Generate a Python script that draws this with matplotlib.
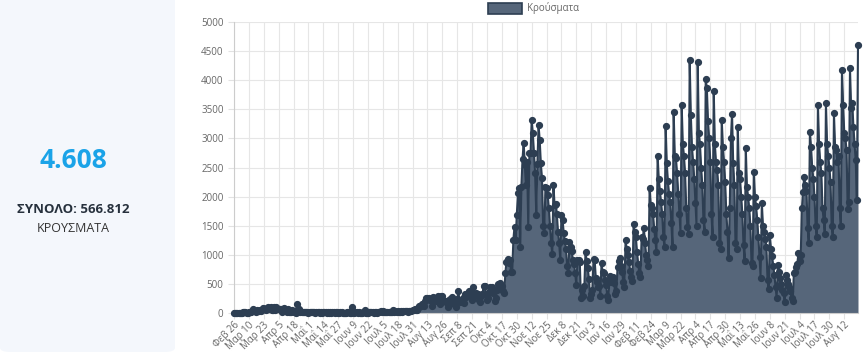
import matplotlib
matplotlib.use("Agg")
import matplotlib.pyplot as plt
from matplotlib.patches import FancyBboxPatch, Rectangle
import numpy as np
import pandas as pd

plt.rcParams['font.family'] = ['Open Sans', 'DejaVu Sans']

# ---- data (daily new cases, Greece, 26 Feb 2020 .. 24 Aug 2021), one row = one week (Wed..Tue)
cases_spring_2020 = [
    1, 2, 0, 0, 3, 0, 1,
    2, 21, 14, 13, 0, 7, 25,
    10, 18, 38, 62, 38, 21, 56,
    34, 31, 46, 31, 94, 71, 71,
    48, 78, 102, 72, 95, 60, 43,
    108, 54, 99, 74, 71, 62, 77,
    25, 49, 81, 53, 17, 75, 20,
    25, 22, 54, 15, 29, 3, 156,
    10, 77, 12, 17, 11, 12, 17,
    10, 15, 6, 21, 19, 17, 13,
    11, 8, 14, 10, 10, 7, 16,
    8, 12, 25, 15, 3, 10, 6,
    13, 6, 21, 20, 3, 9, 11,
]
cases_summer_2020 = [
    6, 8, 19, 17, 5, 2, 5,
    4, 9, 15, 3, 5, 97, 25,
    6, 18, 20, 2, 15, 8, 5,
    6, 14, 49, 7, 3, 7, 15,
    17, 10, 22, 8, 10, 21, 2,
    15, 13, 26, 15, 30, 12, 16,
    22, 21, 9, 14, 22, 25, 44,
    19, 29, 21, 40, 21, 15, 26,
    25, 30, 26, 39, 41, 19, 31,
    33, 36, 46, 57, 75, 44, 55,
    81, 121, 124, 153, 151, 126, 203,
    262, 262, 254, 230, 217, 120, 269,
    250, 208, 244, 284, 195, 157, 293,
    293, 202, 202, 199, 168, 101, 220,
]
cases_autumn_2020 = [
    243, 271, 167, 173, 145, 95, 241,
    372, 189, 201, 229, 251, 170, 331,
    273, 338, 380, 326, 313, 229, 453,
    300, 339, 305, 318, 218, 181, 290,
    323, 464, 460, 321, 217, 261, 354,
    450, 445, 346, 388, 214, 265, 403,
    500, 522, 456, 459, 380, 346, 682,
    880, 922, 865, 910, 713, 710, 1259,
    1480, 1250, 1690, 2056, 2140, 1140, 2170,
    2646, 2926, 2540, 2200, 2600, 1480, 2744,
    2752, 3316, 3087, 2750, 2400, 1684, 2560,
    3230, 2970, 2570, 2314, 1498, 1369, 2160,
    2150, 2020, 1800, 1500, 1197, 1020, 2200,
]
cases_winter_2021 = [
    1850, 1880, 1700, 1390, 1200, 910, 1684,
    1600, 1370, 1230, 1100, 800, 682, 1225,
    1140, 1060, 910, 850, 680, 480, 910,
    910, 880, 252, 400, 300, 460, 1053,
    900, 780, 580, 262, 320, 395, 922,
    910, 600, 530, 450, 460, 300, 854,
    700, 680, 560, 480, 300, 223, 640,
    530, 560, 624, 520, 330, 380, 795,
    900, 940, 810, 700, 530, 450, 1254,
    1100, 1000, 880, 720, 624, 550, 1529,
    1400, 1300, 1050, 850, 680, 620, 1300,
    1280, 1455, 1200, 1000, 910, 800, 2142,
    1860, 1800, 1700, 1450, 1254, 1040, 2702,
]
cases_spring_2021 = [
    2300, 2100, 1900, 1700, 1300, 1140, 3213,
    2570, 2260, 2050, 1900, 1540, 1140, 3459,
    2700, 2660, 2400, 2050, 1700, 1380, 3574,
    2900, 2700, 2400, 1800, 1480, 1350, 4340,
    3400, 2850, 2600, 2300, 1890, 1500, 4309,
    3100, 2900, 2500, 2200, 1600, 1400, 4026,
    3860, 3300, 3000, 2600, 1700, 1300, 3820,
    2900, 2590, 2455, 2200, 1200, 1100, 3316,
    2860, 2600, 2250, 1700, 1400, 950, 1800,
    3000, 3420, 2570, 2200, 1200, 1100, 3200,
    2400, 2300, 2000, 1700, 1170, 900, 2830,
    2170, 2000, 1800, 1500, 860, 800, 2428,
    2000, 1840, 1600, 1300, 960, 600, 1896,
]
cases_summer_2021 = [
    1500, 1400, 1270, 1140, 560, 420, 1340,
    1100, 980, 800, 650, 450, 250, 825,
    700, 600, 500, 400, 340, 195, 660,
    560, 500, 440, 380, 250, 210, 680,
    700, 795, 850, 1025, 900, 1000, 1800,
    2085, 2342, 2200, 2100, 1460, 1200, 3115,
    2850, 2500, 2300, 2000, 1500, 1300, 3574,
    2900, 2600, 2400, 1800, 1600, 1360, 3600,
    2900, 2700, 2500, 2250, 1500, 1300, 3430,
    2850, 2800, 2600, 2700, 1800, 1500, 4175,
    3580, 3100, 3000, 2800, 1780, 1900, 4205,
    3520, 3600, 3200, 2900, 2630, 1940, 4608,
]
cases = (cases_spring_2020 + cases_summer_2020 + cases_autumn_2020 +
         cases_winter_2021 + cases_spring_2021 + cases_summer_2021)

start_date = "2020-02-26"
month_abbr = ["Ιαν", "Φεβ", "Μαρ", "Απρ", "Μαΐ", "Ιουν",
              "Ιουλ", "Αυγ", "Σεπ", "Οκτ", "Νοε", "Δεκ"]
tick_step = 13
legend_label = "Κρούσματα"
latest_value = "4.608"
total_label = "ΣΥΝΟΛΟ: 566.812"
unit_label = "ΚΡΟΥΣΜΑΤΑ"
y_ticks = list(range(0, 5001, 500))

dates = pd.date_range(start_date, periods=len(cases), freq="D")
labels = [f"{month_abbr[d.month - 1]} {d.day}" for d in dates]
x = np.arange(len(cases))

W, H = 868, 364
fig = plt.figure(figsize=(W / 100, H / 100), dpi=100)
fig.patch.set_facecolor("white")

# left info panel
panel = FancyBboxPatch((0 / W, 1 - 352 / H), 175 / W, 380 / H,
                       boxstyle="round,pad=0,rounding_size=0.012",
                       transform=fig.transFigure, facecolor="#f4f7fc",
                       edgecolor="none", zorder=0)
fig.patches.append(panel)
fig.text(73 / W, 1 - 160 / H, latest_value, ha="center", va="center",
         fontsize=19, fontweight="bold", color="#1aa3e8")
fig.text(73 / W, 1 - 210 / H, total_label, ha="center", va="center",
         fontsize=9.5, fontweight="bold", color="#27313d")
fig.text(73 / W, 1 - 229 / H, unit_label, ha="center", va="center",
         fontsize=9, color="#333333")

ax = fig.add_axes([234 / W, 1 - 313 / H, (858 - 234) / W, (313 - 22) / H])
line_color = "#2d3e52"
fill_color = "#56667a"
ax.fill_between(x, cases, 0, color=fill_color, linewidth=0, zorder=2)
ax.plot(x, cases, color=line_color, lw=1.5, marker="o", ms=4.2,
        mfc=line_color, mec=line_color, zorder=3, clip_on=False)

ax.set_xlim(0, len(cases) - 1)
ax.set_ylim(0, 5000)
ax.set_yticks(y_ticks)
ax.set_yticklabels([str(v) for v in y_ticks])
tick_idx = list(range(0, len(cases), tick_step))
ax.set_xticks(tick_idx)
ax.set_xticklabels([labels[i] for i in tick_idx], rotation=45, ha="right",
                   rotation_mode="anchor")
ax.tick_params(axis="both", labelsize=7, colors="#e2e2e2", labelcolor="#666666",
               length=4, width=0.8)
ax.tick_params(axis="x", pad=1)
ax.grid(True, color="#e6e6e6", lw=0.8, zorder=0)
ax.set_axisbelow(True)
for s in ["top", "right"]:
    ax.spines[s].set_visible(False)
for s in ["left", "bottom"]:
    ax.spines[s].set_color("#cccccc")
    ax.spines[s].set_linewidth(0.8)

# legend (chart.js style) at top centre
fig.patches.append(Rectangle((488 / W, 1 - 14 / H), 34 / W, 11 / H,
                             transform=fig.transFigure, facecolor=fill_color,
                             edgecolor=line_color, lw=1.2))
fig.text(527 / W, 1 - 8.5 / H, legend_label, ha="left", va="center",
         fontsize=7, color="#666666")

fig.savefig("out.png", dpi=100)
